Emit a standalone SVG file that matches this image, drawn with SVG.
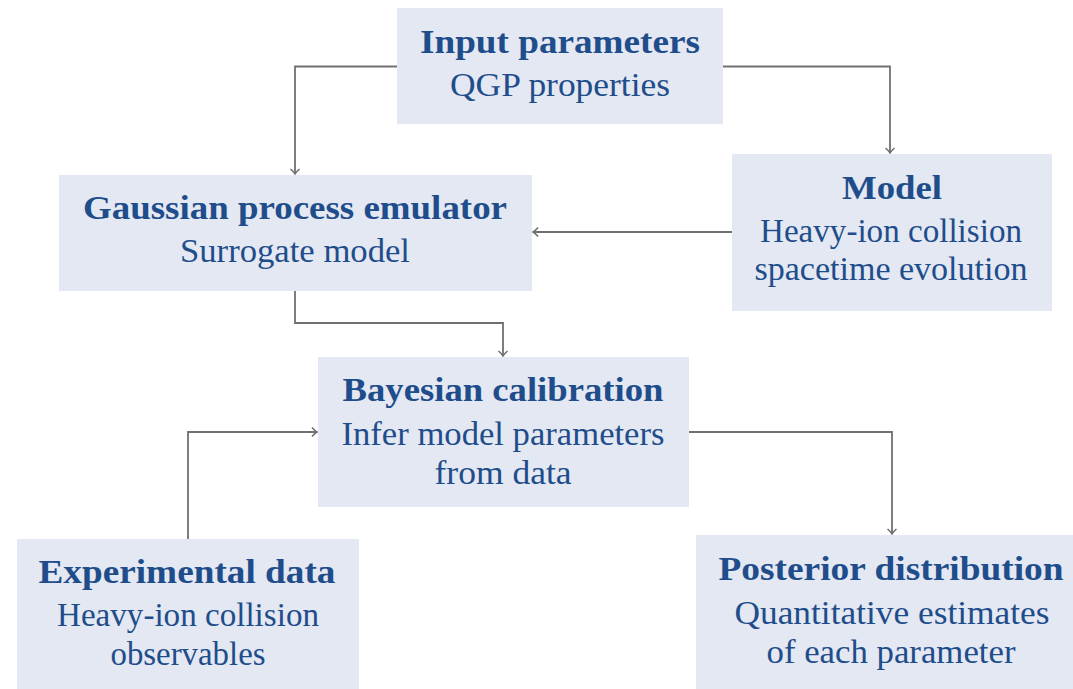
<svg xmlns="http://www.w3.org/2000/svg" width="1073" height="689" viewBox="0 0 1073 689">
  <style>
    .box { fill: #e3e8f2; }
    .t { font-family: "Liberation Serif", "Times New Roman", serif; fill: #1f4d8b; text-anchor: middle; }
    .h { font-size: 33px; font-weight: bold; }
    .s { font-size: 33px; }
    .wire { fill: none; stroke: #707070; stroke-width: 1.8; marker-end: url(#tip); }
  </style>
  <defs>
    <marker id="tip" viewBox="-6 -6 8 12" markerWidth="8" markerHeight="12" refX="0" refY="0" orient="auto" markerUnits="userSpaceOnUse">
      <path d="M -5 -4.5 Q -2 -1 0 0 Q -2 1 -5 4.5" fill="none" stroke="#707070" stroke-width="1.6"/>
    </marker>
  </defs>
  <rect width="1073" height="689" fill="#ffffff"/>

  <!-- connectors -->
  <g id="connectors">
    <path class="wire" d="M 397 66.5 H 295 V 174"/>
    <path class="wire" d="M 723 66.5 H 890 V 153"/>
    <path class="wire" d="M 732 232 H 533"/>
    <path class="wire" d="M 295 291 V 323 H 503 V 356"/>
    <path class="wire" d="M 188 539 V 432 H 317"/>
    <path class="wire" d="M 689 432 H 892 V 534"/>
  </g>

  <g id="input-parameters">
    <rect class="box" x="397" y="8" width="326" height="116"/>
    <text class="t h" x="560" y="53" textLength="280" lengthAdjust="spacingAndGlyphs">Input parameters</text>
    <text class="t s" x="560" y="96" textLength="220" lengthAdjust="spacingAndGlyphs">QGP properties</text>
  </g>

  <g id="gaussian-process-emulator">
    <rect class="box" x="59" y="175" width="473" height="116"/>
    <text class="t h" x="295" y="219" textLength="424" lengthAdjust="spacingAndGlyphs">Gaussian process emulator</text>
    <text class="t s" x="295" y="262" textLength="230" lengthAdjust="spacingAndGlyphs">Surrogate model</text>
  </g>

  <g id="model">
    <rect class="box" x="732" y="154" width="320" height="157"/>
    <text class="t h" x="892" y="199" textLength="100" lengthAdjust="spacingAndGlyphs">Model</text>
    <text class="t s" x="891" y="242" textLength="262" lengthAdjust="spacingAndGlyphs">Heavy-ion collision</text>
    <text class="t s" x="891" y="280" textLength="273" lengthAdjust="spacingAndGlyphs">spacetime evolution</text>
  </g>

  <g id="bayesian-calibration">
    <rect class="box" x="318" y="357" width="371" height="150"/>
    <text class="t h" x="503" y="401" textLength="321" lengthAdjust="spacingAndGlyphs">Bayesian calibration</text>
    <text class="t s" x="503" y="445" textLength="323" lengthAdjust="spacingAndGlyphs">Infer model parameters</text>
    <text class="t s" x="503" y="484" textLength="137" lengthAdjust="spacingAndGlyphs">from data</text>
  </g>

  <g id="experimental-data">
    <rect class="box" x="17" y="539" width="342" height="150"/>
    <text class="t h" x="187" y="583" textLength="297" lengthAdjust="spacingAndGlyphs">Experimental data</text>
    <text class="t s" x="188" y="626" textLength="262" lengthAdjust="spacingAndGlyphs">Heavy-ion collision</text>
    <text class="t s" x="188" y="665" textLength="155" lengthAdjust="spacingAndGlyphs">observables</text>
  </g>

  <g id="posterior-distribution">
    <rect class="box" x="696" y="535" width="377" height="154"/>
    <text class="t h" x="891" y="580" textLength="345" lengthAdjust="spacingAndGlyphs">Posterior distribution</text>
    <text class="t s" x="892" y="624" textLength="315" lengthAdjust="spacingAndGlyphs">Quantitative estimates</text>
    <text class="t s" x="891" y="663" textLength="249" lengthAdjust="spacingAndGlyphs">of each parameter</text>
  </g>
</svg>
